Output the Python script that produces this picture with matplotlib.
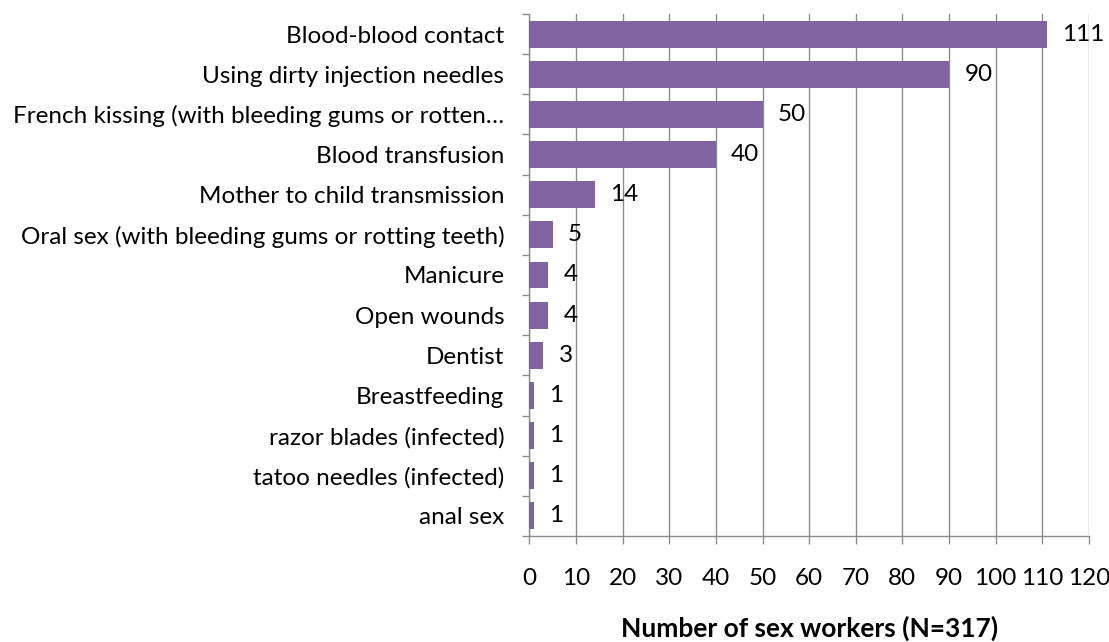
import numpy as np
import matplotlib.pyplot as plt

categories = [
    "Blood-blood contact",
    "Using dirty injection needles",
    "French kissing (with bleeding gums or rotten\u2026",
    "Blood transfusion",
    "Mother to child transmission",
    "Oral sex (with bleeding gums or rotting teeth)",
    "Manicure",
    "Open wounds",
    "Dentist",
    "Breastfeeding",
    "razor blades (infected)",
    "tatoo needles (infected)",
    "anal sex",
]
counts = [111, 90, 50, 40, 14, 5, 4, 4, 3, 1, 1, 1, 1]
xticks = list(range(0, 121, 10))

plt.rcParams['font.family'] = ['Lato', 'DejaVu Sans']
bar_color = '#8064A2'
grid_color = '#8C8C8C'
fs = 17.5

fig = plt.figure(figsize=(11.09, 6.42), dpi=100)
ax = fig.add_axes([529.3 / 1109, 1 - 536 / 642, 559.7 / 1109, 522 / 642])

y = np.arange(len(categories))
ax.barh(y, counts, height=0.67, color=bar_color, zorder=3)

for yi, v in zip(y, counts):
    ax.annotate(str(v), (v, yi), xytext=(11, 0), textcoords='offset points',
                va='center', ha='left', fontsize=fs, color='black')

ax.set_ylim(len(categories) - 0.5, -0.5)
ax.set_xlim(0, 120)
ax.set_xticks(xticks)
ax.set_xticklabels([str(t) for t in xticks], fontsize=fs)
ax.set_yticks(y)
ax.set_yticklabels(categories, fontsize=fs)
ax.set_yticks(np.arange(-0.5, len(categories), 1), minor=True)

ax.tick_params(axis='y', which='major', length=0, pad=18)
ax.tick_params(axis='y', which='minor', length=5, color=grid_color, width=1)
ax.tick_params(axis='x', length=6, color=grid_color, width=1, pad=17)

ax.grid(axis='x', color=grid_color, linewidth=1, zorder=0)
for s in ['top', 'right']:
    ax.spines[s].set_visible(False)
for s in ['left', 'bottom']:
    ax.spines[s].set_color(grid_color)
    ax.spines[s].set_linewidth(1)

ax.set_xlabel('Number of sex workers (N=317)', fontsize=19, fontweight='bold', labelpad=19)

fig.savefig('out.png', dpi=100)
